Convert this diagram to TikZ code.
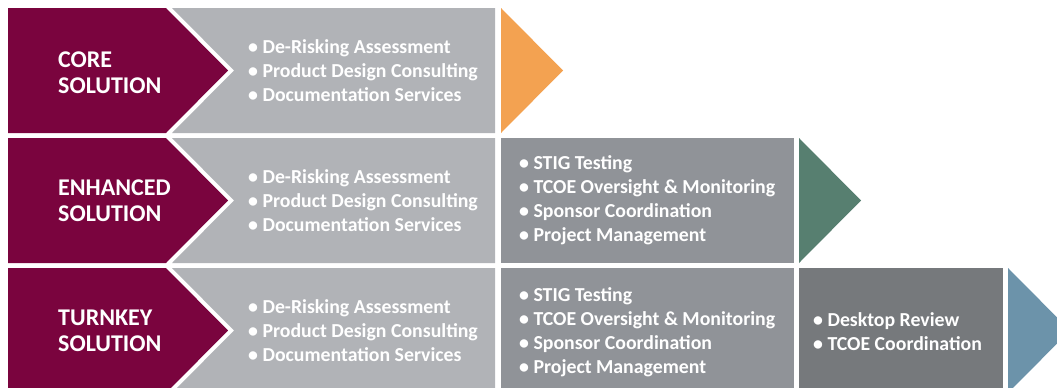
\documentclass[tikz,border=0pt]{standalone}
\usepackage{fontspec}
\setmainfont{Carlito}
\definecolor{maroon}{HTML}{7A043E}
\definecolor{greyA}{HTML}{B1B3B7}
\definecolor{greyB}{HTML}{909398}
\definecolor{greyC}{HTML}{76797C}
\definecolor{tipA}{HTML}{F3A251}
\definecolor{tipB}{HTML}{577F70}
\definecolor{tipC}{HTML}{6C93AA}
\tikzset{
	solname/.style = {anchor = west, align = left, inner sep = 0, text = white,
		font = \fontsize{24}{26}\selectfont\bfseries},
	itemlist/.style = {anchor = west, align = left, inner sep = 0, text = white,
		font = \fontsize{19.8}{24}\selectfont\bfseries},
}
\begin{document}
\begin{tikzpicture}[x = 1pt, y = -1pt]
		\useasboundingbox (0, 0) rectangle (1057, 388);
		\clip (0, 0) rectangle (1057, 388);
		% Core
		\begin{scope}
			\fill [maroon] (8, 8) -- (166, 8) -- (228, 70.5) -- (166, 133) -- (8, 133) -- cycle;
			\fill [greyA] (172, 8) -- (495, 8) -- (495, 133) -- (172, 133) -- (234, 70.5) -- cycle;
			\fill [tipA] (501, 8) -- (563, 70.5) -- (501, 133) -- cycle;
			\node [solname] (core) at (58, 72.5) {CORE\\SOLUTION};
			\node [itemlist] (core-base) at (248, 70.5)
				{• De-Risking Assessment\\• Product Design Consulting\\• Documentation Services};
		\end{scope}
		% Enhanced
		\begin{scope}
			\fill [maroon] (8, 138) -- (166, 138) -- (228, 200.5) -- (166, 263) -- (8, 263) -- cycle;
			\fill [greyA] (172, 138) -- (495, 138) -- (495, 263) -- (172, 263) -- (234, 200.5) -- cycle;
			\fill [greyB] (501, 138) rectangle (794, 263);
			\fill [tipB] (799, 138) -- (861, 200.5) -- (799, 263) -- cycle;
			\node [solname] (enhanced) at (58, 201) {ENHANCED\\SOLUTION};
			\node [itemlist] (enh-base) at (248, 200.5)
				{• De-Risking Assessment\\• Product Design Consulting\\• Documentation Services};
			\node [itemlist] (enh-plus) at (519, 200.5)
				{• STIG Testing\\• TCOE Oversight \& Monitoring\\• Sponsor Coordination\\• Project Management};
		\end{scope}
		% Turnkey
		\begin{scope}
			\fill [maroon] (8, 268) -- (166, 268) -- (228, 330.5) -- (166, 393) -- (8, 393) -- cycle;
			\fill [greyA] (172, 268) -- (495, 268) -- (495, 393) -- (172, 393) -- (234, 330.5) -- cycle;
			\fill [greyB] (501, 268) rectangle (794, 393);
			\fill [greyC] (799, 268) rectangle (1003, 393);
			\fill [tipC] (1008, 268) -- (1070, 330.5) -- (1008, 393) -- cycle;
			\node [solname] (turnkey) at (58, 330.5) {TURNKEY\\SOLUTION};
			\node [itemlist] (tk-base) at (248, 331)
				{• De-Risking Assessment\\• Product Design Consulting\\• Documentation Services};
			\node [itemlist] (tk-plus) at (519, 332)
				{• STIG Testing\\• TCOE Oversight \& Monitoring\\• Sponsor Coordination\\• Project Management};
			\node [itemlist] (tk-full) at (813, 332)
				{• Desktop Review\\• TCOE Coordination};
		\end{scope}
	\end{tikzpicture}
\end{document}
